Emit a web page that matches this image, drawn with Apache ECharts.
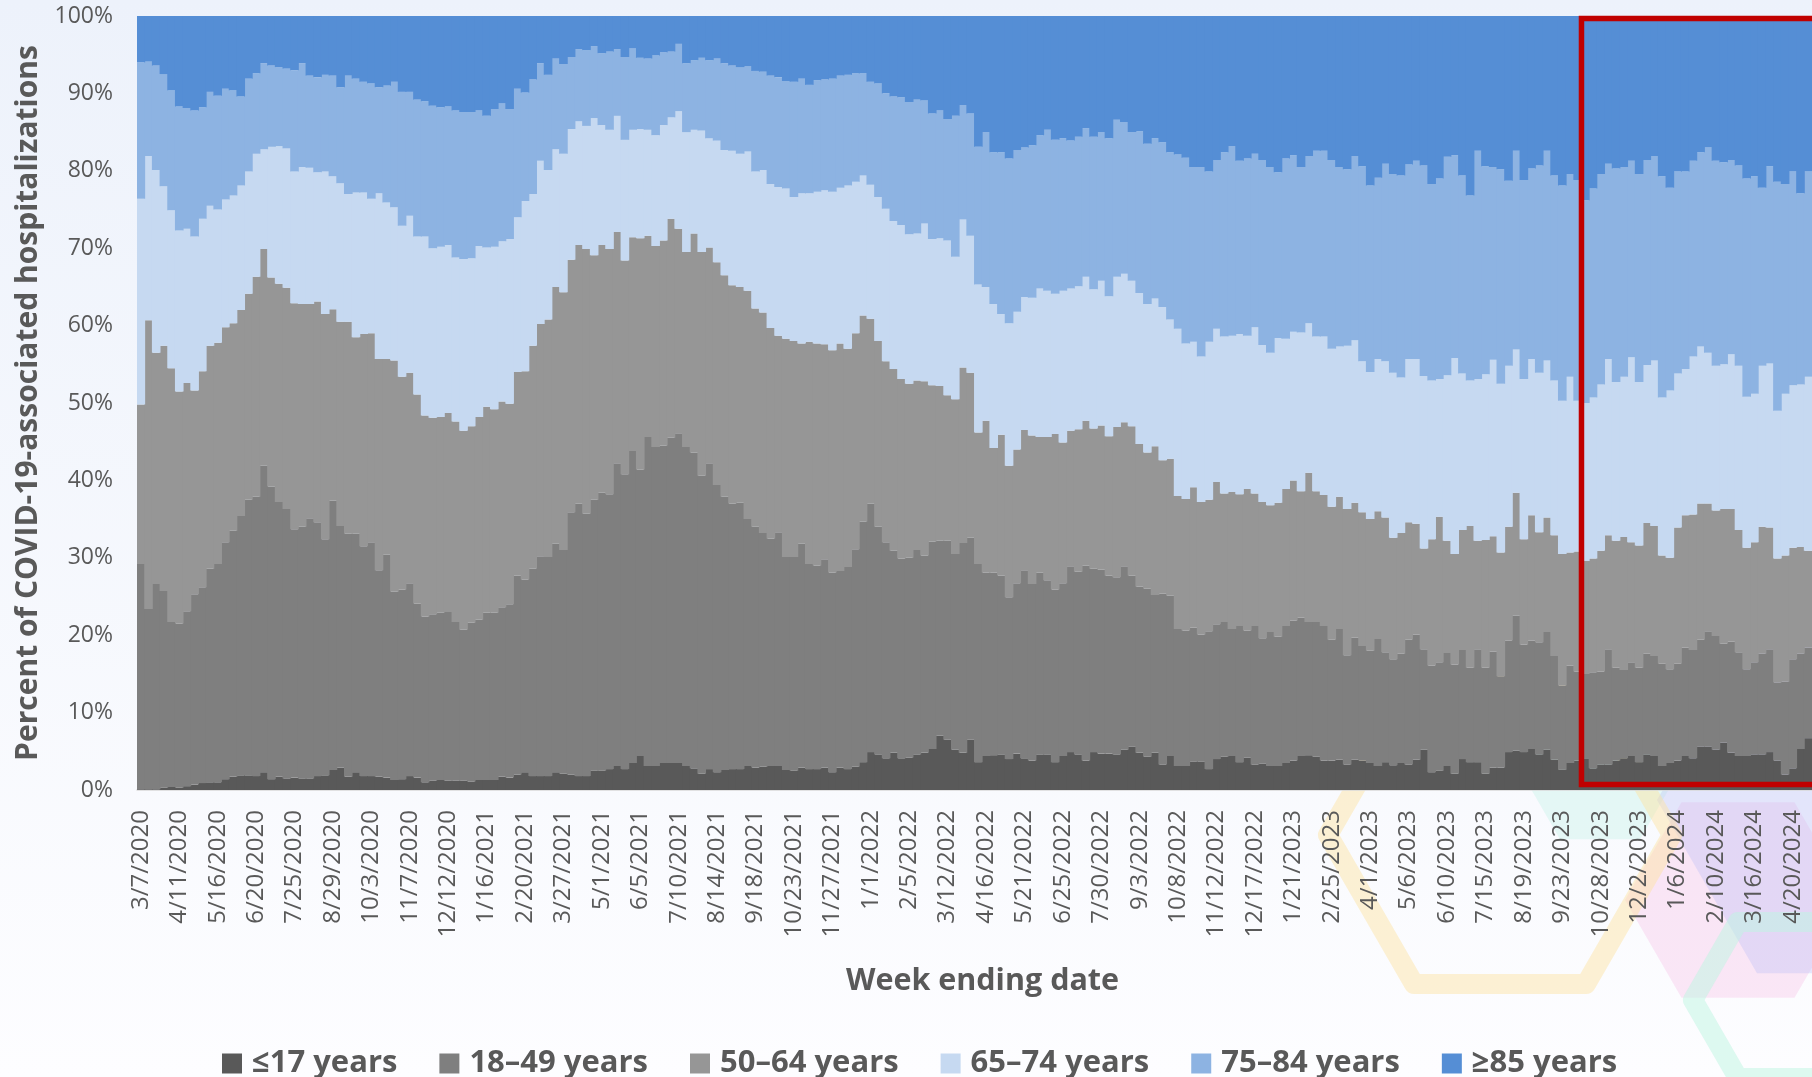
<!DOCTYPE html>
<html>
<head>
<meta charset="utf-8">
<script src="https://cdn.jsdelivr.net/npm/echarts@6.0.0/dist/echarts.min.js"></script>
<style>
  html, body { margin: 0; padding: 0; overflow: hidden; background: #f7f9fe; }
  #chart { width: 1812px; height: 1077px; }
</style>
</head>
<body>
<div id="chart"></div>
<script>
const ageGroups = ['≤17 years', '18–49 years', '50–64 years', '65–74 years', '75–84 years', '≥85 years'];
const groupColors = ['#595959', '#7f7f7f', '#969696', '#c6d9f1', '#8db3e2', '#558ed5'];
const highlightFrom = '10/14/2023';

// week ending dates (Saturdays), starting 3/7/2020
const weekEnding = [];
for (let i = 0; i < 218; i++) {
  const d = new Date(Date.UTC(2020, 2, 7 + i * 7));
  weekEnding.push((d.getUTCMonth() + 1) + '/' + d.getUTCDate() + '/' + d.getUTCFullYear());
}

// percent of weekly hospitalizations by age group
const age0to17 = [
  0.1,0.1,0.1,0.3,0.4,0.3,0.5,0.7,0.9,1.0, 1.0,1.4,1.7,1.9,1.9,1.8,2.3,1.4,1.7,1.5,
  1.6,1.5,1.5,1.8,1.9,2.6,2.9,1.7,2.3,1.8, 1.8,1.7,1.6,1.3,1.4,1.8,1.6,1.0,1.2,1.3,
  1.2,1.2,1.2,1.1,1.3,1.3,1.3,1.7,1.6,2.0, 2.3,1.8,1.8,1.8,2.3,2.1,2.0,1.8,1.8,2.5,
  2.5,2.7,3.1,2.7,3.5,4.4,3.1,3.1,3.5,3.5, 3.5,3.1,2.8,2.1,2.7,2.3,2.6,2.7,2.7,3.1,
  2.9,3.0,3.1,3.2,2.6,2.5,2.9,2.7,2.7,2.9, 2.3,2.9,2.7,3.0,3.6,4.9,4.6,4.1,4.8,4.1,
  4.2,4.6,4.8,5.3,7.0,6.5,5.2,4.8,6.5,3.6, 4.4,4.5,4.6,4.0,4.7,4.1,3.8,4.6,4.6,3.6,
  4.4,4.9,4.6,3.8,4.9,4.7,4.7,4.6,5.2,5.6, 4.8,4.3,4.8,3.3,4.4,3.1,3.1,3.7,3.7,2.7,
  4.0,4.3,4.4,3.6,4.2,3.3,3.4,3.1,3.1,3.5, 3.8,4.4,4.5,4.3,3.8,3.8,3.9,3.3,3.9,3.8,
  3.5,3.1,3.6,3.2,3.5,3.3,3.9,5.2,2.3,2.5, 3.1,2.1,4.0,3.6,3.6,2.1,2.9,2.9,4.9,5.1,
  4.9,5.3,4.6,5.2,3.9,2.6,3.5,3.8,4.1,2.8, 3.3,3.3,3.8,4.1,4.4,3.6,4.6,4.4,3.1,3.5,
  3.8,4.4,4.1,5.6,5.6,5.2,6.1,4.8,4.4,4.4, 4.6,4.6,4.9,3.8,2.0,2.8,5.3,6.7
];
const age18to49 = [
  29.1,23.3,26.5,25.4,21.3,21.2,22.6,24.6,25.3,27.6, 28.2,30.6,31.8,33.5,35.6,36.1,39.6,37.8,35.5,34.8,
  32.1,32.5,33.6,32.8,30.5,34.8,31.2,31.4,30.8,29.7, 30.2,26.7,28.8,24.3,24.5,24.9,22.5,21.4,21.5,21.6,
  21.8,20.5,19.5,20.5,20.7,21.6,21.6,21.9,22.4,25.7, 24.9,26.8,28.4,28.3,29.5,28.9,33.9,35.2,33.9,35.0,
  35.9,35.5,39.1,38.1,40.3,37.0,42.5,41.2,41.0,42.0, 42.6,41.2,40.8,38.5,39.5,37.1,35.3,34.3,34.4,31.9,
  31.1,30.2,29.4,30.1,27.5,27.6,28.9,26.5,26.3,26.9, 25.8,25.4,26.1,28.1,31.1,32.1,29.4,27.9,26.1,25.8,
  25.8,26.4,25.5,26.8,25.2,25.7,25.3,27.1,26.1,25.6, 23.7,23.6,23.1,20.9,22.0,24.3,22.8,23.5,22.5,22.3,
  22.3,24.0,23.6,25.2,23.7,23.8,23.0,22.9,23.7,22.1, 21.5,21.7,20.4,22.1,20.7,17.7,17.5,17.3,16.4,17.8,
  17.4,17.4,16.4,17.6,16.4,17.9,16.2,17.3,16.7,17.7, 18.1,17.9,17.2,17.4,17.4,15.6,16.9,14.1,15.8,14.8,
  14.5,16.4,14.2,13.7,14.1,16.1,16.2,13.0,13.8,14.0, 14.6,14.1,14.1,12.2,14.6,13.7,15.0,11.8,14.4,17.4,
  13.9,14.0,14.5,15.2,13.4,10.9,12.6,11.5,10.9,12.4, 12.0,14.9,12.0,11.4,12.1,12.2,13.0,12.9,13.2,12.1,
  12.5,14.0,14.0,13.8,14.9,14.7,12.8,14.4,13.4,11.2, 11.9,13.0,13.3,10.1,12.0,14.1,12.3,11.7
];
const age50to64 = [
  20.6,37.3,29.9,31.7,32.8,30.0,29.5,26.3,27.9,28.8, 28.6,27.8,26.8,26.6,26.6,28.4,28.0,27.0,28.2,28.6,
  29.2,28.8,27.7,28.5,29.1,24.7,26.4,27.4,25.4,27.4, 27.0,27.3,25.3,29.9,27.5,27.2,27.0,26.0,25.4,25.3,
  25.7,25.9,25.7,25.4,26.2,26.6,26.3,26.6,25.9,26.3, 26.9,28.8,30.0,30.7,33.2,33.3,32.6,33.4,34.2,31.6,
  32.0,31.7,29.9,27.6,27.6,29.9,26.0,26.0,26.5,28.3, 26.4,25.2,28.3,28.9,27.9,28.8,28.6,28.2,27.9,29.5,
  28.2,28.5,27.2,25.4,28.2,27.9,25.9,28.7,28.7,27.8, 28.7,29.4,28.2,27.9,26.6,23.9,24.0,23.4,23.5,23.2,
  22.5,21.9,22.5,20.2,20.0,18.8,20.0,22.7,21.3,17.0, 19.6,16.1,18.2,17.0,17.3,18.1,19.2,17.5,18.5,20.1,
  18.2,17.5,18.4,18.7,18.1,18.6,18.0,19.4,18.6,19.3, 18.4,17.6,19.2,17.2,17.7,17.2,17.0,18.1,17.1,17.0,
  18.4,16.6,17.7,17.0,18.3,17.1,17.6,16.4,17.3,17.7, 18.1,16.3,19.3,16.9,16.9,17.2,17.1,18.9,17.4,17.3,
  17.0,16.5,17.4,15.7,15.6,15.2,14.3,13.0,16.3,18.8, 14.5,14.3,15.5,18.3,14.0,16.5,14.9,16.0,14.7,15.9,
  13.6,16.2,14.2,14.8,15.6,17.0,14.6,15.5,14.6,14.7, 15.6,14.7,16.4,17.2,15.5,15.8,16.9,16.8,14.0,14.4,
  17.6,17.1,17.5,17.6,16.5,16.2,17.4,17.1,15.8,15.7, 15.5,16.4,15.7,16.0,16.3,14.4,13.8,12.5
];
const age65to74 = [
  26.6,21.2,23.6,20.6,20.4,20.8,19.9,19.9,19.7,18.1, 17.2,16.5,16.5,16.1,15.8,15.9,12.9,16.9,17.8,18.0,
  17.0,17.7,17.6,16.7,18.4,17.2,17.9,16.5,18.7,18.3, 17.4,21.4,20.2,19.8,19.5,20.3,20.4,23.1,21.9,22.0,
  21.7,21.2,22.2,21.7,22.1,20.6,21.0,20.7,21.3,20.0, 22.0,19.6,21.1,19.3,17.8,17.9,16.9,16.0,15.9,17.7,
  15.5,15.4,15.0,15.6,13.9,14.1,13.7,14.3,14.9,13.1, 15.2,15.5,13.4,15.7,14.1,15.7,16.2,17.4,17.2,18.0,
  17.7,18.4,18.6,19.2,19.4,18.6,19.4,19.2,19.6,19.9, 20.5,20.1,21.1,19.6,18.1,17.3,18.6,19.7,19.1,19.9,
  19.3,19.0,20.4,18.9,19.1,20.0,18.4,19.1,17.7,19.1, 17.3,18.6,15.6,18.4,17.8,17.2,17.8,19.2,18.9,18.1,
  19.6,18.4,18.5,18.6,18.0,18.7,18.1,19.4,19.2,18.8, 19.5,19.2,19.1,19.8,18.0,21.6,20.1,18.8,18.8,20.4,
  19.8,20.3,20.2,20.7,19.8,21.5,20.3,19.7,21.3,19.4, 19.2,20.5,19.3,20.0,20.5,20.4,19.4,21.1,21.0,19.5,
  19.0,19.7,20.2,21.3,20.1,21.1,21.3,22.3,20.5,17.8, 21.4,25.3,20.2,18.8,20.9,21.4,22.8,21.8,20.8,18.5,
  20.7,20.2,20.6,20.3,20.0,19.8,22.7,19.5,20.4,20.8, 21.5,22.8,20.5,20.7,23.9,21.1,20.4,21.4,20.4,21.6,
  19.9,18.9,20.4,20.3,19.5,18.7,18.7,20.0,21.2,19.5, 19.2,20.8,21.2,19.1,20.9,21.0,21.0,22.5
];
const age75to84 = [
  17.6,12.2,13.5,14.5,15.5,16.0,15.6,16.3,14.4,14.7, 14.7,14.3,13.6,11.5,12.0,10.4,11.1,10.5,10.2,10.3,
  13.1,13.4,11.9,12.3,12.5,13.0,12.4,15.3,14.7,14.3, 14.9,13.7,15.1,16.2,17.3,16.0,17.7,17.5,18.4,18.0,
  17.9,19.0,19.0,18.9,17.5,17.0,17.8,17.8,16.8,16.6, 14.0,14.8,12.6,12.3,11.7,11.6,9.3,9.3,9.8,9.3,
  9.3,10.1,8.6,10.7,10.5,9.2,9.2,10.3,9.4,8.5, 8.7,8.9,9.0,9.4,10.1,10.6,11.2,11.0,11.2,11.0,
  13.0,12.7,14.0,14.2,13.9,14.9,14.8,14.0,14.4,14.3, 14.6,14.5,14.3,14.0,13.2,13.3,14.7,14.9,16.1,16.5,
  17.1,17.3,15.9,16.2,16.5,15.7,18.2,14.8,15.8,17.8, 20.0,19.6,20.9,21.3,20.9,19.3,19.7,19.8,20.8,19.9,
  19.7,19.1,19.3,19.2,19.7,19.2,20.4,20.3,19.6,19.2, 20.9,20.7,20.7,21.3,21.6,22.5,24.0,22.6,24.5,22.0,
  21.8,23.8,24.5,22.4,22.9,22.4,23.9,24.0,21.4,23.3, 22.8,21.4,21.6,24.0,24.0,24.4,23.2,22.8,23.8,25.2,
  24.1,23.4,25.5,25.7,26.1,25.1,25.6,27.2,25.4,25.9, 28.2,26.2,25.6,23.9,29.5,26.9,24.9,27.7,23.9,25.7,
  25.7,24.6,26.8,27.1,26.5,27.8,26.2,28.5,26.2,27.0, 27.2,25.2,27.6,27.1,25.4,26.9,26.5,26.4,28.6,26.2,
  26.1,25.5,25.3,25.1,26.5,26.5,26.1,25.1,25.9,28.2, 28.1,23.0,25.5,29.6,27.1,27.6,24.7,26.5
];
const age85plus = [
  6.0,5.9,6.4,7.5,9.6,11.7,11.9,12.2,11.8,9.8, 10.3,9.4,9.6,10.4,8.1,7.4,6.1,6.4,6.6,6.8,
  7.0,6.1,7.7,7.9,7.6,7.7,9.2,7.7,8.1,8.5, 8.7,9.2,9.0,8.5,9.8,9.8,10.8,11.0,11.6,11.8,
  11.7,12.2,12.4,12.4,12.2,12.9,12.0,11.3,12.0,9.4, 9.9,8.2,6.1,7.6,5.5,6.2,5.3,4.3,4.4,3.9,
  4.8,4.6,4.3,5.3,4.2,5.4,5.5,5.1,4.7,4.6, 3.6,6.1,5.7,5.4,5.7,5.5,6.1,6.4,6.6,6.5,
  7.1,7.2,7.7,7.9,8.4,8.5,8.1,8.9,8.3,8.2, 8.1,7.7,7.6,7.4,7.4,8.5,8.7,10.0,10.4,10.5,
  11.1,10.8,10.9,12.6,12.2,13.3,12.9,11.5,12.6,16.9, 15.0,17.6,17.6,18.4,17.3,17.0,16.7,15.4,14.7,16.0,
  15.8,16.1,15.6,14.5,15.6,15.0,15.8,13.4,13.7,15.0, 14.9,16.5,15.8,16.3,17.6,17.9,18.3,19.5,19.5,20.1,
  18.6,17.6,16.8,18.7,18.4,17.8,18.6,19.5,20.2,18.4, 18.0,19.5,18.1,17.4,17.4,18.6,19.5,19.8,18.1,19.4,
  21.9,20.9,19.1,20.4,20.6,19.2,18.7,19.3,21.7,21.0, 18.2,18.0,20.6,23.2,17.4,19.4,19.5,19.8,21.3,17.4,
  21.2,19.7,19.3,17.4,20.6,21.9,20.4,21.2,23.8,22.3, 20.4,19.1,19.7,19.5,18.7,20.4,18.6,18.1,20.7,22.2,
  20.1,20.1,18.7,17.6,17.0,18.7,18.9,18.6,19.3,21.0, 20.7,22.2,19.4,21.4,21.7,20.1,22.9,20.1
];

const shares = [age0to17, age18to49, age50to64, age65to74, age75to84, age85plus];
const fontFamily = '"Open Sans", "Noto Sans", sans-serif';
const textColor = '#595959';
const plotWidth = 1682;

const chart = echarts.init(document.getElementById('chart'), null, { renderer: 'canvas' });

chart.setOption({
  animation: false,
  backgroundColor: new echarts.graphic.LinearGradient(0, 0, 0, 1, [
    { offset: 0, color: '#edf2fb' },
    { offset: 1, color: '#fdfdff' }
  ]),
  textStyle: { fontFamily: fontFamily },
  grid: { left: 137, top: 16, width: plotWidth, height: 774, containLabel: false },
  legend: {
    data: ageGroups,
    left: 217,
    top: 1043,
    icon: 'rect',
    itemWidth: 20,
    itemHeight: 20,
    itemGap: 42,
    itemStyle: { borderWidth: 0 },
    textStyle: { fontSize: 31, fontWeight: 'bold', color: textColor, fontFamily: fontFamily, padding: [0, 0, 0, 5] }
  },
  xAxis: {
    type: 'category',
    data: weekEnding,
    name: 'Week ending date',
    nameLocation: 'middle',
    nameGap: 176,
    nameTextStyle: { fontSize: 30.5, fontWeight: 'bold', color: textColor, padding: [0, 0, 0, 16] },
    axisLine: { lineStyle: { color: '#d9d9d9', width: 1.5 } },
    axisTick: { interval: 0, length: 8, lineStyle: { color: '#d9d9d9' } },
    axisLabel: { interval: 4, rotate: 90, fontSize: 24, color: textColor, margin: 20 }
  },
  yAxis: {
    type: 'value',
    min: 0,
    max: 100,
    interval: 10,
    name: 'Percent of COVID-19-associated hospitalizations',
    nameLocation: 'middle',
    nameGap: 91,
    nameTextStyle: { fontSize: 30, fontWeight: 'bold', color: textColor },
    axisLine: { show: false },
    axisTick: { show: false },
    splitLine: { show: false },
    axisLabel: { formatter: '{value}%', fontSize: 23, color: textColor, margin: 24 }
  },
  // bars slightly wider than a week so neighbouring weeks meet without seams
  series: ageGroups.map((name, i) => ({
    name: name,
    type: 'bar',
    stack: 'share',
    data: shares[i],
    barWidth: plotWidth / weekEnding.length + 0.9,
    silent: true,
    itemStyle: { color: groupColors[i] }
  }))
});

// background hexagons and the highlight box
function hexPoints(cx, cy, r) {
  const pts = [];
  for (let k = 0; k < 6; k++) {
    pts.push([cx + r * Math.cos(Math.PI / 3 * k), cy + r * Math.sin(Math.PI / 3 * k)]);
  }
  return pts;
}

const bandW = plotWidth / weekEnding.length;
const boxLeft = chart.convertToPixel({ xAxisIndex: 0 }, highlightFrom) - bandW / 2;
const yTop = chart.convertToPixel({ yAxisIndex: 0 }, 100);
const yBottom = chart.convertToPixel({ yAxisIndex: 0 }, 0);

chart.setOption({
  graphic: [
    { type: 'polygon', z: -1, silent: true, shape: { points: hexPoints(1600, 770, 80) },
      style: { fill: 'rgba(190, 240, 228, 0.35)' } },
    { type: 'polygon', z: -1, silent: true, shape: { points: hexPoints(1738, 900, 113) },
      style: { fill: 'rgba(245, 190, 230, 0.35)' } },
    { type: 'polygon', z: -1, silent: true, shape: { points: hexPoints(1857, 800, 200) },
      style: { fill: 'rgba(185, 190, 245, 0.35)' } },
    { type: 'polygon', z: -1, silent: true, shape: { points: hexPoints(1500, 835, 172) },
      style: { fill: 'none', stroke: 'rgba(253, 226, 160, 0.45)', lineWidth: 20, lineJoin: 'round' } },
    { type: 'polygon', z: -1, silent: true, shape: { points: hexPoints(1783, 1000, 90) },
      style: { fill: 'none', stroke: 'rgba(190, 245, 225, 0.5)', lineWidth: 20, lineJoin: 'round' } },
    { type: 'rect', z: 50, silent: true,
      shape: { x: boxLeft, y: yTop + 2.5, width: 400, height: yBottom - yTop - 8 },
      style: { fill: 'none', stroke: '#c00000', lineWidth: 5.5 } }
  ]
});
</script>
</body>
</html>
